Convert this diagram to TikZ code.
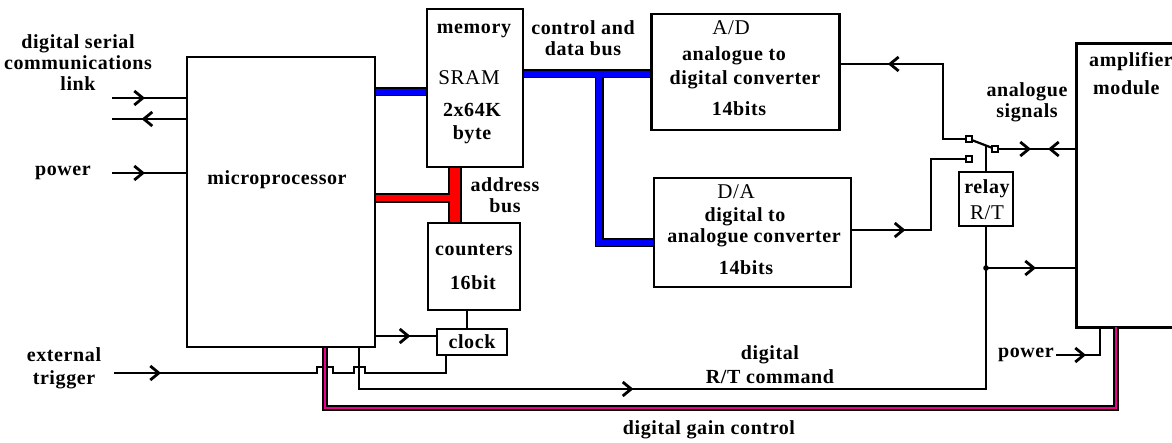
\documentclass[tikz,border=0pt]{standalone}
\usepackage{fontspec}
\setmainfont{Liberation Serif}[LetterSpace=3]
\usetikzlibrary{arrows.meta,decorations.markings}
\begin{document}
\begin{tikzpicture}[x=1pt,y=-1pt,
  ln/.style={line width=2.8pt},
  box/.style={draw, line width=2.8pt, inner sep=0pt},
  ct/.style={draw, line width=1.6pt, fill=white, minimum size=6pt, inner sep=0pt},
  tb/.style={font=\fontsize{20}{21}\selectfont\bfseries, inner sep=0pt, align=center},
  tr/.style={font=\fontsize{21}{21}\selectfont, inner sep=0pt, align=center},
  barb/.tip={Straight Barb[length=8.5pt,width=14pt]},
  marr/.style={postaction={decorate}, decoration={markings, mark=at position #1 with {\arrow{barb}}}},
  busk/.style={line width=#1, draw=black},
  busb/.style={line width=5.5pt, draw=blue},
  busr/.style={line width=#1, draw=red}
]
\useasboundingbox (0,0) rectangle (1172,443);
\clip (0,0) rectangle (1172,443);

% boxes
\node[box, minimum width=188pt, minimum height=290pt] (mp) at (281,202) {};
\node[box, minimum width=96pt, minimum height=158pt] (mem) at (475,88) {};
\node[box, minimum width=188pt, minimum height=116pt] (ad) at (745.5,72) {};
\node[box, minimum width=197pt, minimum height=109pt] (da) at (752.5,232.5) {};
\node[inner sep=0pt, minimum width=160pt, minimum height=283pt] (amp) at (1157,185.5) {};
\draw[line width=2.8pt] (amp.north east) -- (amp.north west) -- (amp.south west) -- (amp.south east);
\node[box, minimum width=54pt, minimum height=54pt] (rel) at (986,199) {};
\node[box, minimum width=92pt, minimum height=87pt] (cnt) at (474,266.5) {};
\node[box, minimum width=70pt, minimum height=26pt] (clk) at (472,342) {};

% texts
\node[tb] (tser) at (78,63) {digital serial\\communications\\link};
\node[tb] (tpw) at (63,173) {power};
\node[tb] (tmp) at (277,180) {microprocessor};
\node[tb] (tet) at (64,368) {external\\[2pt]trigger};
\node[tb] (tmem) at (474,31) {memory};
\node[tr] (tsram) at (469,78) {SRAM};
\node[tb] (t2x) at (472,110) {2x64K};
\node[tb] (tbyte) at (472,135) {byte};
\node[tb] (tcdb) at (583,38) {control and\\data bus};
\node[tr] (tad) at (731,28) {A/D};
\node[tb] (tad1) at (734,56) {analogue to};
\node[tb] (tad2) at (745,80) {digital converter};
\node[tb] (tad3) at (739,109) {14bits};
\node[tr] (tda) at (736,192) {D/A};
\node[tb] (tda1) at (745,217) {digital to};
\node[tb] (tda2) at (754,238) {analogue converter};
\node[tb] (tda3) at (746,268) {14bits};
\node[tb] (tab) at (505,195) {address\\bus};
\node[tb] (tcnt) at (474,250) {counters};
\node[tb] (t16) at (473,283) {16bit};
\node[tb] (tclk) at (472,342) {clock};
\node[tb] (tas) at (1027,102) {analogue\\signals};
\node[tb, anchor=west] (tamp) at (1089,62) {amplifier};
\node[tb, anchor=west] (tmod) at (1093,88) {module};
\node[tb] (trel) at (987,189) {relay};
\node[tr] (trt) at (987,213) {R/T};
\node[tb] (trtc) at (770,365) {digital\\[3pt]R/T command};
\node[tb, anchor=east] (tpw2) at (1054,355) {power};
\node[tb] (tgc) at (709,430) {digital gain control};

% inputs on the left
\coordinate (si1) at (112,98);
\coordinate (si2) at (112,119);
\coordinate (pw) at (112,173);
\coordinate (trg) at (114,373);
\draw[ln, marr=33pt] (si1) -- (si1 -| mp.west);
\draw[ln, marr=44pt] (si2 -| mp.west) -- (si2);
\draw[ln, marr=33pt] (pw) -- (pw -| mp.west);

% external trigger with hops
\draw[ln, marr=47pt] (trg) -- (317,373) -- (317,367) -- (333,367) -- (333,373)
  -- (354,373) -- (354,367) -- (365,367) -- (365,373) -- (446,373) -- (446,0 |- clk.south);

% micro -> clock, counters - clock
\draw[ln, marr=34pt] (mp.east |- 0,336) -- (clk.west |- 0,336);
\draw[ln] (467,0 |- cnt.south) -- (467,0 |- clk.north);

% digital gain control
\draw[line width=6pt] (325,0 |- mp.south) -- (325,408) -- (1116,408) -- (1116,0 |- amp.south);
\draw[line width=2pt, magenta] (325,0 |- mp.south) -- (325,408) -- (1116,408) -- (1116,0 |- amp.south);

% R/T command
\draw[ln, marr=315pt] (359,0 |- mp.south) -- (359,389) -- (rel.south |- 0,389) -- (rel.south);
\coordinate (jn) at (986,268);
\fill (jn) circle (2.8pt);
\draw[ln, marr=50pt] (jn) -- (jn -| amp.west);

% power (right)
\draw[ln, marr=30pt] ([xshift=2pt]tpw2.east) -| (1100,0 |- amp.south);

% switch
\coordinate (c1p) at (969,139);
\coordinate (c2p) at (969,159);
\coordinate (pvp) at (995,149);
\draw[ln, marr=-47pt] (c1p) -- (943,139) -- (943,64) -- (ad.east |- 0,64);
\draw[ln, marr=53pt] (da.east |- 0,230) -- (931,230) -- (931,159) -- (c2p);
\draw[line width=2.2pt] (c1p) -- (pvp);
\draw[line width=2.2pt] (rel.north) -- (rel.north |- 0,145.5);
\draw[ln, postaction={decorate}, decoration={markings,
    mark=at position 36pt with {\arrow{barb}},
    mark=at position 53pt with {\arrowreversed{barb}}}] (pvp) -- (pvp -| amp.west);
\node[ct] (c1) at (c1p) {};
\node[ct] (c2) at (c2p) {};
\node[ct] (pv) at (pvp) {};

% blue control and data bus
\draw[busk=9pt] (mp.east |- 0,92) -- (mem.west |- 0,92);
\draw[busk=9pt] (mem.east |- 0,74) -- (ad.west |- 0,74);
\draw[busk=9pt] (599,74) -- (599,243) -- (da.west |- 0,243);
\draw[busb] (mp.east |- 0,92) -- (mem.west |- 0,92);
\draw[busb] (mem.east |- 0,74) -- (ad.west |- 0,74);
\draw[busb] (599,74) -- (599,243) -- (da.west |- 0,243);

% red address bus
\draw[busk=10pt] (mp.east |- 0,198) -- (455,198);
\draw[busk=14pt] (455,0 |- mem.south) -- (455,0 |- cnt.north);
\draw[busr=6.5pt] (mp.east |- 0,198) -- (455,198);
\draw[busr=10pt] (455,0 |- mem.south) -- (455,0 |- cnt.north);
\end{tikzpicture}
\end{document}
